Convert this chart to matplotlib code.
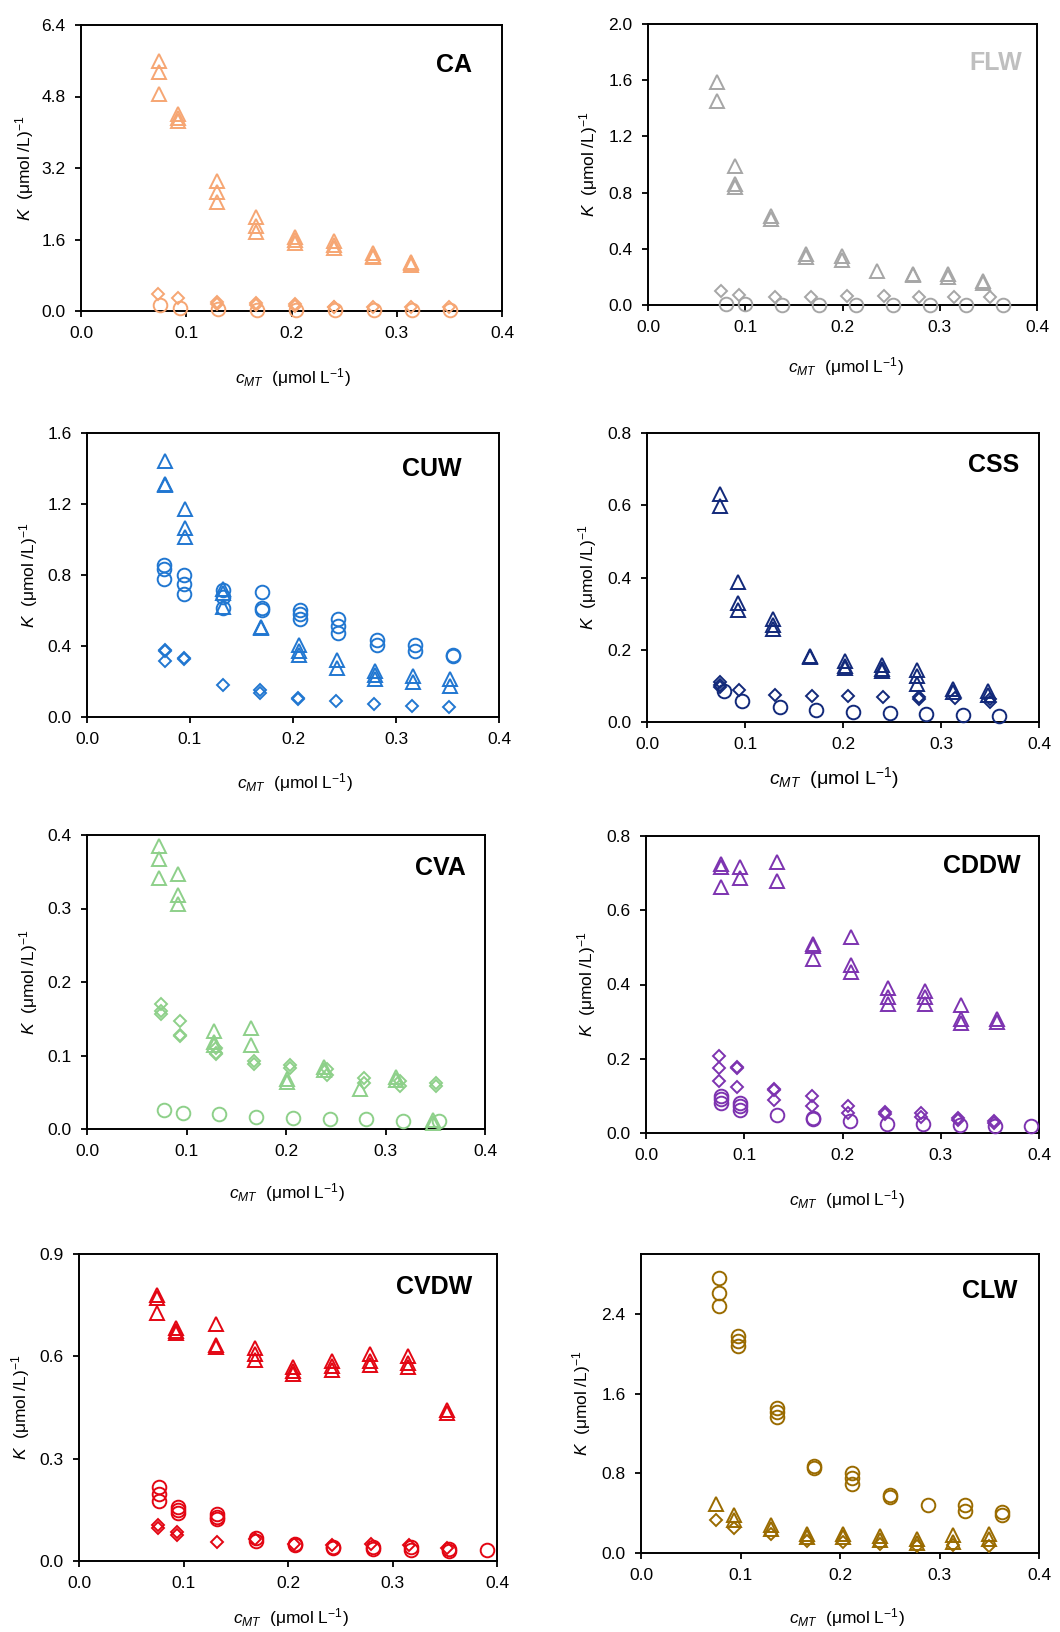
import numpy as np
import matplotlib
matplotlib.use("Agg")
import matplotlib.pyplot as plt

plt.rcParams['font.family'] = ['Liberation Sans', 'DejaVu Sans']
plt.rcParams['mathtext.fontset'] = 'custom'
plt.rcParams['mathtext.rm'] = 'Liberation Sans'
plt.rcParams['mathtext.it'] = 'Liberation Sans:italic'

# ---------------- data (x levels, replicate y values) ----------------
# CA
ca_tri_x = [0.074, 0.0925, 0.1296, 0.1664, 0.2032, 0.240, 0.277, 0.3138]
ca_tri_y = [[5.60, 5.35, 4.85], [4.40, 4.33, 4.26], [2.92, 2.67, 2.45], [2.10, 1.91, 1.76],
            [1.66, 1.60, 1.53], [1.57, 1.48, 1.42], [1.29, 1.23, 1.20], [1.10, 1.07, 1.04]]
ca_dia_x = [0.0735, 0.0925, 0.1296, 0.1664, 0.2032, 0.240, 0.277, 0.3138, 0.350]
ca_dia_y = [[0.37], [0.28], [0.21, 0.16], [0.17, 0.13], [0.16, 0.11], [0.10, 0.08], [0.08], [0.08], [0.08]]
ca_cir_x = [0.0752, 0.0945, 0.1305, 0.167, 0.204, 0.241, 0.278, 0.3145, 0.351]
ca_cir_y = [[0.13], [0.06], [0.04], [0.02], [0.02], [0.02], [0.02], [0.02], [0.02]]

# FLW
flw_tri_x = [0.0713, 0.0898, 0.1268, 0.1628, 0.1995, 0.2358, 0.2725, 0.3085, 0.344]
flw_tri_y = [[1.59, 1.45], [0.99, 0.86, 0.84], [0.63, 0.61], [0.36, 0.34], [0.35, 0.32],
             [0.24], [0.22, 0.21], [0.22, 0.20], [0.17, 0.16]]
flw_dia_x = [0.0754, 0.0936, 0.131, 0.168, 0.205, 0.2423, 0.2787, 0.3147, 0.3513]
flw_dia_y = [[0.10], [0.07], [0.06], [0.06], [0.065], [0.065], [0.06], [0.06], [0.06]]
flw_cir_x = [0.0799, 0.0994, 0.1378, 0.1755, 0.2135, 0.252, 0.2896, 0.3273, 0.365]
flw_cir_y = [[0.01], [0.01], [0.003], [0.003], [0.003], [0.003], [0.003], [0.003], [0.003]]

# CUW
cuw_tri_x = [0.076, 0.0947, 0.132, 0.169, 0.206, 0.243, 0.2797, 0.3163, 0.3525]
cuw_tri_y = [[1.442, 1.315, 1.305], [1.17, 1.067, 1.014], [0.723, 0.70, 0.62], [0.507, 0.50],
             [0.404, 0.372, 0.347], [0.323, 0.278], [0.257, 0.235, 0.216], [0.229, 0.197], [0.216, 0.173]]
cuw_cir_x = [0.0744, 0.0938, 0.132, 0.1698, 0.207, 0.244, 0.2813, 0.3185, 0.3557]
cuw_cir_y = [[0.854, 0.836, 0.779], [0.80, 0.751, 0.691], [0.714, 0.676, 0.614], [0.704, 0.616, 0.601],
             [0.601, 0.578, 0.554], [0.554, 0.511, 0.475], [0.432, 0.404], [0.408, 0.372], [0.347, 0.342]]
cuw_dia_x = [0.0753, 0.0938, 0.1316, 0.168, 0.2053, 0.242, 0.2787, 0.3153, 0.3515]
cuw_dia_y = [[0.379, 0.372, 0.315], [0.334, 0.325], [0.178], [0.150, 0.137], [0.109, 0.101],
             [0.088], [0.075], [0.062], [0.056]]

# CSS
css_tri_x = [0.0741, 0.0924, 0.129, 0.166, 0.2025, 0.2396, 0.2753, 0.312, 0.3484]
css_tri_y = [[0.632, 0.597], [0.388, 0.330, 0.310], [0.284, 0.269, 0.257], [0.183, 0.180],
             [0.168, 0.156, 0.149], [0.158, 0.146, 0.140], [0.143, 0.126, 0.106], [0.091, 0.082], [0.087, 0.075]]
css_dia_x = [0.0741, 0.0935, 0.131, 0.168, 0.2046, 0.2413, 0.278, 0.3144, 0.350]
css_dia_y = [[0.110, 0.103, 0.096], [0.089], [0.074], [0.073], [0.071], [0.069], [0.068, 0.065],
             [0.066], [0.064, 0.056]]
css_cir_x = [0.0788, 0.0972, 0.1353, 0.1726, 0.210, 0.248, 0.2849, 0.3223, 0.3596]
css_cir_y = [[0.085], [0.059], [0.041], [0.032], [0.029], [0.025], [0.022], [0.020], [0.017]]

# CVA
cva_tri_x = [0.0726, 0.0914, 0.128, 0.1647, 0.2015, 0.2377, 0.2745, 0.3106, 0.3474]
cva_tri_y = [[0.3855, 0.367, 0.342], [0.347, 0.319, 0.306], [0.134, 0.118, 0.114], [0.138, 0.114],
             [0.068, 0.064], [0.085, 0.080], [0.055], [0.071, 0.067], [0.012, 0.008]]
cva_dia_x = [0.0743, 0.093, 0.1299, 0.1674, 0.2042, 0.241, 0.2785, 0.3146, 0.3508]
cva_dia_y = [[0.170, 0.160, 0.157], [0.147, 0.128, 0.126], [0.110, 0.104, 0.102], [0.0925, 0.089],
             [0.087, 0.083], [0.082, 0.073], [0.070, 0.063], [0.065, 0.058], [0.063, 0.058]]
cva_cir_x = [0.077, 0.096, 0.1329, 0.170, 0.207, 0.2444, 0.2805, 0.3173, 0.3541]
cva_cir_y = [[0.026], [0.022], [0.020], [0.017], [0.015], [0.014], [0.013], [0.011], [0.011]]

# CDDW
cddw_tri_x = [0.0765, 0.0952, 0.133, 0.170, 0.2086, 0.2459, 0.2838, 0.321, 0.3577]
cddw_tri_y = [[0.725, 0.716, 0.663], [0.716, 0.687], [0.730, 0.678], [0.510, 0.503, 0.470],
              [0.528, 0.453, 0.434], [0.390, 0.366, 0.348], [0.382, 0.366, 0.348],
              [0.344, 0.308, 0.297], [0.306, 0.299]]
cddw_dia_x = [0.0745, 0.0931, 0.1307, 0.1687, 0.206, 0.2432, 0.2804, 0.3177, 0.3543]
cddw_dia_y = [[0.207, 0.175, 0.140], [0.178, 0.175, 0.124], [0.118, 0.115, 0.088], [0.099, 0.073],
              [0.072, 0.054], [0.057, 0.052], [0.054, 0.043], [0.040, 0.034], [0.032, 0.028]]
cddw_cir_x = [0.0765, 0.0952, 0.133, 0.170, 0.2076, 0.2449, 0.2822, 0.3194, 0.355, 0.3916]
cddw_cir_y = [[0.101, 0.092, 0.082], [0.082, 0.072, 0.061], [0.049], [0.040, 0.037], [0.031],
              [0.025], [0.023], [0.021], [0.019], [0.019]]

# CVDW
cvdw_tri_x = [0.0751, 0.0933, 0.131, 0.1684, 0.205, 0.2419, 0.2786, 0.3153, 0.3521]
cvdw_tri_y = [[0.781, 0.771, 0.727], [0.683, 0.673, 0.668], [0.696, 0.634, 0.627], [0.624, 0.607, 0.590],
              [0.570, 0.556, 0.548], [0.585, 0.572, 0.561], [0.607, 0.585, 0.575],
              [0.602, 0.580, 0.568], [0.443, 0.435]]
cvdw_cir_x = [0.0764, 0.0949, 0.1323, 0.1693, 0.2067, 0.2435, 0.2812, 0.318, 0.3537, 0.3904]
cvdw_cir_y = [[0.216, 0.197, 0.177], [0.158, 0.150, 0.142], [0.138, 0.130, 0.122], [0.066, 0.060],
              [0.050, 0.047], [0.042, 0.039], [0.042, 0.034], [0.040, 0.032], [0.034, 0.030], [0.032]]
cvdw_dia_x = [0.0757, 0.0942, 0.1316, 0.1684, 0.2058, 0.2425, 0.2792, 0.316, 0.3521]
cvdw_dia_y = [[0.106, 0.096], [0.084, 0.076], [0.055], [0.064], [0.049], [0.047], [0.049], [0.047], [0.037]]

# CLW
clw_cir_x = [0.0787, 0.0978, 0.1363, 0.1742, 0.2124, 0.2503, 0.2881, 0.3256, 0.3625]
clw_cir_y = [[2.756, 2.608, 2.474], [2.178, 2.128, 2.077], [1.455, 1.412, 1.365], [0.874, 0.850],
             [0.807, 0.750, 0.692], [0.582, 0.558], [0.481], [0.481, 0.424], [0.413, 0.380]]
clw_tri_x = [0.075, 0.0935, 0.1303, 0.1665, 0.2034, 0.2402, 0.2771, 0.3139, 0.3501]
clw_tri_y = [[0.491], [0.380, 0.329], [0.279, 0.245], [0.195, 0.161], [0.188, 0.161],
             [0.168, 0.134], [0.145, 0.101], [0.178, 0.111], [0.188, 0.145]]
clw_dia_x = [0.075, 0.0935, 0.1303, 0.1665, 0.2034, 0.2402, 0.2771, 0.3139, 0.3501]
clw_dia_y = [[0.336], [0.252], [0.195], [0.121], [0.111], [0.094], [0.067], [0.077], [0.067]]

panel_names = ['CA', 'FLW', 'CUW', 'CSS', 'CVA', 'CDDW', 'CVDW', 'CLW']
panel_ymax = [6.4, 2.0, 1.6, 0.8, 0.4, 0.8, 0.9, 3.0]
panel_yticks = [[0, 1.6, 3.2, 4.8, 6.4], [0, 0.4, 0.8, 1.2, 1.6, 2.0], [0, 0.4, 0.8, 1.2, 1.6],
                [0, 0.2, 0.4, 0.6, 0.8], [0, 0.1, 0.2, 0.3, 0.4], [0, 0.2, 0.4, 0.6, 0.8],
                [0, 0.3, 0.6, 0.9], [0, 0.8, 1.6, 2.4]]
xticks = [0, 0.1, 0.2, 0.3, 0.4]

panel_series = [
    [(ca_tri_x, ca_tri_y, '^'), (ca_dia_x, ca_dia_y, 'D'), (ca_cir_x, ca_cir_y, 'o')],
    [(flw_tri_x, flw_tri_y, '^'), (flw_dia_x, flw_dia_y, 'D'), (flw_cir_x, flw_cir_y, 'o')],
    [(cuw_tri_x, cuw_tri_y, '^'), (cuw_cir_x, cuw_cir_y, 'o'), (cuw_dia_x, cuw_dia_y, 'D')],
    [(css_tri_x, css_tri_y, '^'), (css_dia_x, css_dia_y, 'D'), (css_cir_x, css_cir_y, 'o')],
    [(cva_tri_x, cva_tri_y, '^'), (cva_dia_x, cva_dia_y, 'D'), (cva_cir_x, cva_cir_y, 'o')],
    [(cddw_tri_x, cddw_tri_y, '^'), (cddw_dia_x, cddw_dia_y, 'D'), (cddw_cir_x, cddw_cir_y, 'o')],
    [(cvdw_tri_x, cvdw_tri_y, '^'), (cvdw_cir_x, cvdw_cir_y, 'o'), (cvdw_dia_x, cvdw_dia_y, 'D')],
    [(clw_cir_x, clw_cir_y, 'o'), (clw_tri_x, clw_tri_y, '^'), (clw_dia_x, clw_dia_y, 'D')],
]

# ---------------- style / layout ----------------
colors = ['#F6A673', '#A6A6A6', '#2177D1', '#12297A', '#8ED08A', '#7D33B0', '#E30613', '#9A6B00']
title_colors = ['black', '#BFBFBF', 'black', 'black', 'black', 'black', 'black', 'black']

W, H = 1060, 1632
# axes box in pixels: left, top, right, bottom
boxes = [(81, 25, 502, 311), (648, 24, 1037, 305),
         (87, 433, 499, 717), (647, 433, 1039, 722),
         (87, 835, 485, 1129), (646, 836, 1039, 1133),
         (79, 1254, 497, 1561), (641, 1254, 1039, 1553)]
title_pos = [(0.929, 0.86), (0.961, 0.861), (0.910, 0.873), (0.949, 0.889),
             (0.952, 0.888), (0.954, 0.899), (0.940, 0.893), (0.945, 0.876)]
ylab_x = [25, 589, 29, 588, 29, 587, 21, 582]
xlab_pos = [(293, 378), (846, 367), (295, 783), (834, 778),
            (287, 1193), (847, 1200), (291, 1618), (847, 1618)]
xlab_size = [12.5, 12.5, 12.5, 14, 12.5, 12.5, 12.5, 12.5]
msizes = {'^': 9.8, 'o': 9.8, 'D': 6.5}

fig = plt.figure(figsize=(W / 100, H / 100), dpi=100)

for i, name in enumerate(panel_names):
    l, t, r, b = boxes[i]
    ax = fig.add_axes([l / W, 1 - b / H, (r - l) / W, (b - t) / H])
    for xs, ys, mk in panel_series[i]:
        px = np.concatenate([[x] * len(y) for x, y in zip(xs, ys)])
        py = np.concatenate([np.array(y, dtype=float) for y in ys])
        ax.plot(px, py, linestyle='none', marker=mk, ms=msizes[mk], mfc='none',
                mec=colors[i], mew=1.4, clip_on=False, zorder=3)
    ax.set_xlim(0, 0.4)
    ax.set_ylim(0, panel_ymax[i])
    ax.set_xticks(xticks)
    ax.set_yticks(panel_yticks[i])
    ax.xaxis.set_major_formatter(matplotlib.ticker.FormatStrFormatter('%.1f'))
    ax.yaxis.set_major_formatter(matplotlib.ticker.FormatStrFormatter('%.1f'))
    ax.tick_params(direction='out', length=4, width=1.3, labelsize=12.5)
    ax.tick_params(axis='x', pad=6.5)
    ax.tick_params(axis='y', pad=7)
    for s in ax.spines.values():
        s.set_linewidth(1.4)
    ax.text(title_pos[i][0], title_pos[i][1], name, transform=ax.transAxes,
            ha='right', va='center', fontsize=18, fontweight='bold', color=title_colors[i])
    fig.text(ylab_x[i] / W, 1 - (t + b) / 2 / H, r'$K$  (μmol /L)$^{-1}$',
             rotation=90, ha='center', va='center', fontsize=12.5)
    fig.text(xlab_pos[i][0] / W, 1 - xlab_pos[i][1] / H, r'$c_{MT}$  (μmol L$^{-1}$)',
             ha='center', va='center', fontsize=xlab_size[i])

fig.savefig('out.png', dpi=100)
